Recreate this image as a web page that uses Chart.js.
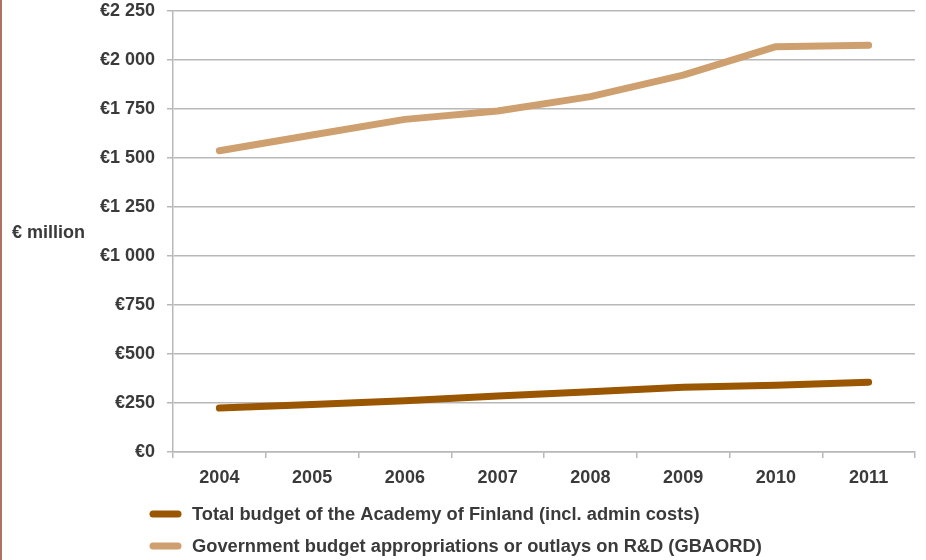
<!DOCTYPE html>
<html>
<head>
<meta charset="utf-8">
<script src="https://cdn.jsdelivr.net/npm/chart.js@4"></script>
<style>
  html, body { margin: 0; padding: 0; background: #fff; }
  #wrap { width: 926px; height: 560px; position: relative; }
</style>
</head>
<body>
<div id="wrap"><canvas id="budgetChart"></canvas></div>
<script>
// Chart data
const years = ['2004', '2005', '2006', '2007', '2008', '2009', '2010', '2011'];
const academyBudget = [224, 242, 262, 286, 308, 330, 340, 356];
const gbaord = [1537, 1617, 1697, 1740, 1813, 1923, 2068, 2075];

const academyLabel = 'Total budget of the Academy of Finland (incl. admin costs)';
const gbaordLabel = 'Government budget appropriations or outlays on R&D (GBAORD)';
const yTitle = '€ million';

const textColor = '#3a3a3a';
const gridColor = '#b8b8b8';
const fontFamily = '"Liberation Sans", Arial, Helvetica, sans-serif';

// "€2 250" style labels
function euroLabel(value) {
  if (value >= 1000) {
    const rest = String(value % 1000).padStart(3, '0');
    return '€' + Math.floor(value / 1000) + ' ' + rest;
  }
  return '€' + value;
}

// Horizontal y title, legend at the bottom left and the side rule
const extras = {
  id: 'extras',
  afterDraw(chart) {
    const ctx = chart.ctx;
    ctx.save();
    ctx.fillStyle = '#ad7262';
    ctx.fillRect(0, 0, 2, chart.height);

    ctx.font = 'bold 18px ' + fontFamily;
    ctx.fillStyle = textColor;
    ctx.textBaseline = 'middle';
    ctx.textAlign = 'left';
    ctx.fillText(yTitle, 12, 233);

    ctx.font = 'bold 18.3px ' + fontFamily;
    chart.data.datasets.forEach((ds, i) => {
      const y = 514 + i * 32;
      ctx.strokeStyle = ds.borderColor;
      ctx.lineWidth = 7;
      ctx.lineCap = 'round';
      ctx.beginPath();
      ctx.moveTo(153, y);
      ctx.lineTo(178, y);
      ctx.stroke();
      ctx.fillStyle = textColor;
      ctx.fillText(ds.label, 192, y + 1);
    });
    ctx.restore();
  }
};

const ctx = document.getElementById('budgetChart').getContext('2d');

new Chart(ctx, {
  type: 'line',
  data: {
    labels: years,
    datasets: [
      {
        label: academyLabel,
        data: academyBudget,
        borderColor: '#9a5600',
        backgroundColor: '#9a5600',
        borderWidth: 7,
        borderCapStyle: 'round',
        borderJoinStyle: 'round',
        pointRadius: 0,
        tension: 0,
      },
      {
        label: gbaordLabel,
        data: gbaord,
        borderColor: '#cfa06f',
        backgroundColor: '#cfa06f',
        borderWidth: 7,
        borderCapStyle: 'round',
        borderJoinStyle: 'round',
        pointRadius: 0,
        tension: 0,
      },
    ],
  },
  options: {
    responsive: true,
    maintainAspectRatio: false,
    animation: false,
    layout: {
      padding: { top: 11, right: 11, bottom: 60, left: 0 },
    },
    plugins: {
      legend: { display: false },
      tooltip: { enabled: false },
    },
    scales: {
      x: {
        offset: true,
        grid: {
          offset: true,
          drawOnChartArea: false,
          drawTicks: true,
          tickLength: 6,
          color: gridColor,
          lineWidth: 1.5,
        },
        border: { color: gridColor, width: 1.5 },
        ticks: {
          color: textColor,
          font: { family: fontFamily, size: 18, weight: 'bold' },
          padding: 9,
          maxRotation: 0,
        },
        afterFit(scale) {
          scale.height = 48;
          scale.paddingLeft = 0;
          scale.paddingRight = 0;
        },
      },
      y: {
        min: 0,
        max: 2250,
        grid: {
          color: gridColor,
          lineWidth: 1.5,
          tickLength: 6,
        },
        border: { color: gridColor, width: 1.5 },
        ticks: {
          stepSize: 250,
          color: textColor,
          font: { family: fontFamily, size: 18, weight: 'bold' },
          padding: 12,
          callback: (value) => euroLabel(value),
        },
        afterFit(scale) {
          scale.width = 173;
          scale.paddingTop = 0;
          scale.paddingBottom = 0;
        },
      },
    },
  },
  plugins: [extras],
});
</script>
</body>
</html>
